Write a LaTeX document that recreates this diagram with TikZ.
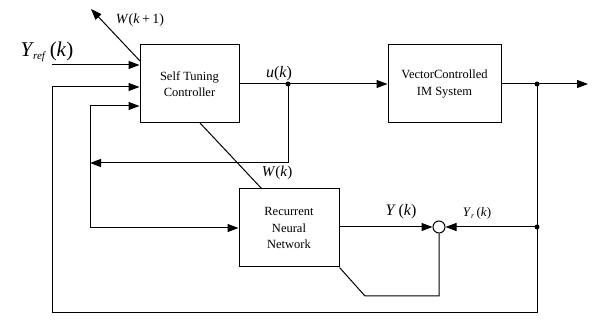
\documentclass[tikz,border=0pt]{standalone}
\usepackage{fontspec}
\setmainfont{Liberation Serif}
\usetikzlibrary{arrows.meta}
\tikzset{
  blk/.style={draw, line width=1pt, minimum width=#1, align=center, font=\fontsize{12.5}{16.5}\selectfont, inner sep=0pt},
  conn/.style={line width=1pt},
  arr/.style={conn, -{Triangle[length=11pt,width=8pt]}},
  dotp/.style={circle, fill=black, inner sep=0pt, minimum size=5pt},
  lbl/.style={inner sep=0pt, font=\itshape}
}
\begin{document}
\begin{tikzpicture}[x=1pt,y=-1pt]
\useasboundingbox (0,0) rectangle (592,320);
% blocks
\node[blk=99pt, minimum height=78pt] (ctrl) at (189.5,84) {Self Tuning\\Controller};
\node[blk=113pt, minimum height=78pt] (im) at (444.5,84) {VectorControlled\\IM System};
\node[blk=100pt, minimum height=78pt] (rnn) at (289,228) {Recurrent\\Neural\\Network};
\node[draw, circle, line width=1pt, minimum size=12pt, inner sep=0pt] (sum) at (439,227) {};
% points
\node[dotp] (ud) at (288,84) {};
\node[dotp] (yd) at (537,84) {};
\node[dotp] (yrd) at (537,227) {};
\coordinate (out) at (588,84);
\coordinate (refs) at (52,65);
\coordinate (wk1) at (91,9);
\coordinate (wk1s) at (140,61);
\coordinate (j1) at (90,163);
\coordinate (bl) at (52,313);
\coordinate (br) at (537,313);
\coordinate (sb) at (439,296);
\coordinate (sbl) at (365,296);
\coordinate (cb) at (200,123);
\coordinate (rt) at (262,189);
% connectors
\draw[arr] (ctrl.east) -- (im.west);
\draw[arr] (im.east) -- (out);
\draw[arr] (refs) -- (refs -| ctrl.west);
\draw[arr] (wk1s) -- (wk1);
\draw[conn] (yd.center) -- (br) -- (bl) -- (52,87);
\draw[arr] (52,87) -- (ctrl.west |- 0,87);
\draw[arr] (ud.center) |- (j1);
\draw[arr] (90,106) -- (ctrl.west |- 0,106);
\draw[conn] (90,106) -- (j1);
\draw[arr] (j1) |- (rnn.west);
\draw[conn] (cb) -- (rt);
\draw[arr] (rnn.east |- sum) -- (sum.west);
\draw[arr] (yrd.center) -- (sum.east);
\draw[conn] (sum.south) -- (sb) -- (sbl) -- (rnn.south east);
% labels
\node[lbl, font=\fontsize{21}{21}\selectfont] at (47,52) {\textit{Y}\kern-1pt{\fontsize{11}{11}\selectfont\raisebox{-3pt}{\textit{ref}}}\,(\textit{k})};
\node[lbl, font=\fontsize{14}{14}\selectfont] at (140,20) {\textit{W}(\textit{k}\,+\,1)};
\node[lbl, font=\fontsize{16}{16}\selectfont] at (279,74) {\textit{u}(\textit{k})};
\node[lbl, font=\fontsize{15}{15}\selectfont] at (277,173) {\textit{W}(\textit{k})};
\node[lbl, font=\fontsize{16}{16}\selectfont] at (401,212) {\textit{Y}\,(\textit{k})};
\node[lbl, font=\fontsize{13}{13}\selectfont] at (477,213) {\textit{Y}{\fontsize{8}{8}\selectfont\raisebox{-2pt}{\textit{r}}}\,(\textit{k})};
\end{tikzpicture}
\end{document}
